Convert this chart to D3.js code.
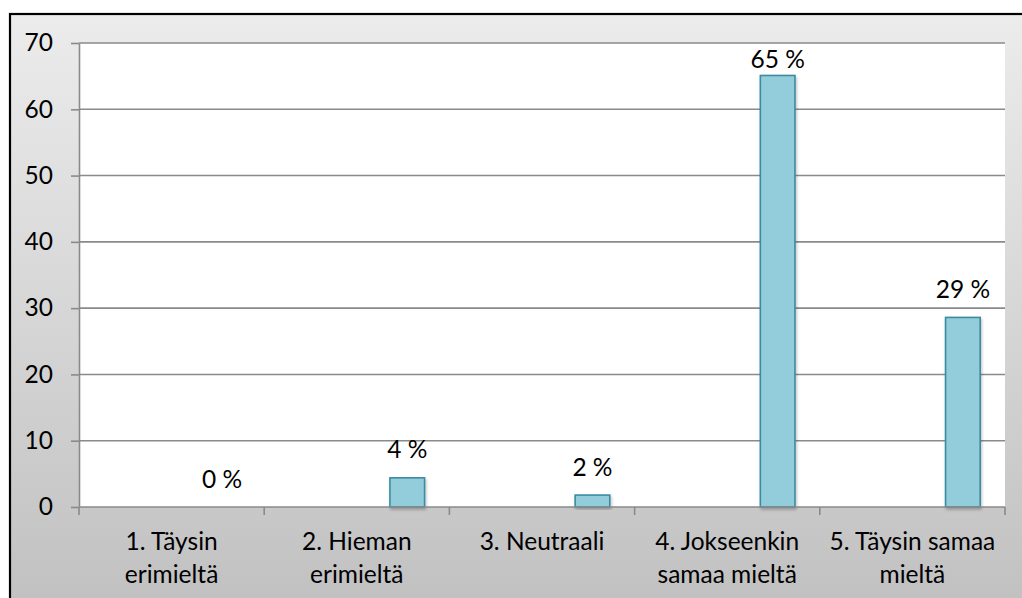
<!DOCTYPE html>
<html>
<head>
<meta charset="utf-8">
<script src="https://cdn.jsdelivr.net/npm/d3@7"></script>
<style>
  html, body { margin: 0; padding: 0; background: #ffffff; }
  svg { display: block; }
  text { font-family: Lato, "Open Sans", sans-serif; fill: #000; }
</style>
</head>
<body>
<svg id="chart" width="1022" height="598"></svg>
<script>
// Survey answers: share of respondents per answer option (%)
const categories = [
  ["1. Täysin", "erimieltä"],
  ["2. Hieman", "erimieltä"],
  ["3. Neutraali"],
  ["4. Jokseenkin", "samaa mieltä"],
  ["5. Täysin samaa", "mieltä"]
];
const values = [0, 4.4, 1.8, 65.1, 28.6];
const yTicks = [0, 10, 20, 30, 40, 50, 60, 70];

const svg = d3.select("#chart");
const W = 1022, H = 598;
const plot = { left: 79, top: 43, right: 1005, bottom: 507 };
const fontSize = 24.5;

const rows = values.map((v, i) => ({ i, v }));

// Chart area background: vertical grey gradient inside a dark frame
const defs = svg.append("defs");
const grad = defs.append("linearGradient")
  .attr("id", "bg").attr("x1", 0).attr("y1", 0).attr("x2", 0).attr("y2", 1);
grad.append("stop").attr("offset", "0%").attr("stop-color", "#ececec");
grad.append("stop").attr("offset", "100%").attr("stop-color", "#bfbfbf");

const shadow = defs.append("filter").attr("id", "barShadow")
  .attr("x", "-30%").attr("y", "-10%").attr("width", "160%").attr("height", "130%");
shadow.append("feDropShadow")
  .attr("dx", 1).attr("dy", 2).attr("stdDeviation", 1.5)
  .attr("flood-color", "#000").attr("flood-opacity", 0.25);

svg.append("rect").attr("x", 0).attr("y", 0).attr("width", W).attr("height", H).attr("fill", "#ffffff");
svg.append("rect")
  .attr("x", 10).attr("y", 14).attr("width", W + 20).attr("height", H + 20)
  .attr("fill", "url(#bg)")
  .attr("stroke", "#000").attr("stroke-width", 2.2);

// Plot area
svg.append("rect")
  .attr("x", plot.left).attr("y", plot.top)
  .attr("width", plot.right - plot.left).attr("height", plot.bottom - plot.top)
  .attr("fill", "#ffffff");

const x = d3.scaleBand()
  .domain(d3.range(categories.length))
  .range([plot.left, plot.right])
  .padding(0);

const y = d3.scaleLinear()
  .domain([0, 70])
  .range([plot.bottom, plot.top]);

// Single series bar sits in the right part of each category slot
const barOffset = 0.679, barWidth = 0.187;

// Horizontal gridlines
svg.append("g")
  .selectAll("line")
  .data(yTicks.filter(t => t > 0))
  .join("line")
  .attr("x1", plot.left).attr("x2", plot.right)
  .attr("y1", d => y(d)).attr("y2", d => y(d))
  .attr("stroke", "#8a8a8a").attr("stroke-width", 1.6);

// Y axis
const yAxis = svg.append("g")
  .attr("transform", `translate(${plot.left},0)`)
  .call(d3.axisLeft(y).tickValues(yTicks).tickSize(8).tickPadding(18).tickSizeOuter(0));
yAxis.select(".domain").attr("stroke", "#8a8a8a").attr("stroke-width", 1.6);
yAxis.selectAll(".tick line").attr("stroke", "#8a8a8a").attr("stroke-width", 1.6);
yAxis.selectAll(".tick text")
  .attr("font-size", fontSize).attr("font-family", "Lato, sans-serif").attr("fill", "#000");

// Bars
svg.append("g")
  .selectAll("rect")
  .data(rows.filter(d => d.v > 0))
  .join("rect")
  .attr("x", d => x(d.i) + x.bandwidth() * barOffset)
  .attr("y", d => y(d.v))
  .attr("width", x.bandwidth() * barWidth)
  .attr("height", d => y(0) - y(d.v))
  .attr("fill", "#93cddc")
  .attr("stroke", "#3b8ba1")
  .attr("stroke-width", 1.6)
  .attr("filter", "url(#barShadow)");

// X axis line with category boundary ticks
const xAxis = svg.append("g");
xAxis.append("line")
  .attr("x1", plot.left).attr("x2", plot.right)
  .attr("y1", y(0)).attr("y2", y(0))
  .attr("stroke", "#8a8a8a").attr("stroke-width", 1.6);
xAxis.selectAll("line.tick")
  .data(d3.range(categories.length + 1))
  .join("line")
  .attr("class", "tick")
  .attr("x1", i => i < categories.length ? x(i) : x(i - 1) + x.bandwidth())
  .attr("x2", i => i < categories.length ? x(i) : x(i - 1) + x.bandwidth())
  .attr("y1", y(0)).attr("y2", y(0) + 8)
  .attr("stroke", "#8a8a8a").attr("stroke-width", 1.6);

// Category labels
const catLabels = svg.append("g")
  .selectAll("text")
  .data(categories)
  .join("text")
  .attr("x", (d, i) => x(i) + x.bandwidth() / 2)
  .attr("y", 550)
  .attr("text-anchor", "middle")
  .attr("font-size", fontSize);
catLabels.selectAll("tspan")
  .data(d => d)
  .join("tspan")
  .attr("x", function() { return d3.select(this.parentNode).attr("x"); })
  .attr("dy", (d, i) => i === 0 ? 0 : 32.5)
  .text(d => d);

// Value labels, kept inside the plot area
const fmt = d3.format(".0f");
svg.append("g")
  .selectAll("text")
  .data(rows)
  .join("text")
  .attr("x", d => x(d.i) + x.bandwidth() * (barOffset + barWidth / 2))
  .attr("y", d => Math.max(y(d.v) - 19.5, plot.top + 24.5))
  .attr("text-anchor", "middle")
  .attr("font-size", fontSize)
  .text(d => fmt(d.v) + " %");
</script>
</body>
</html>
